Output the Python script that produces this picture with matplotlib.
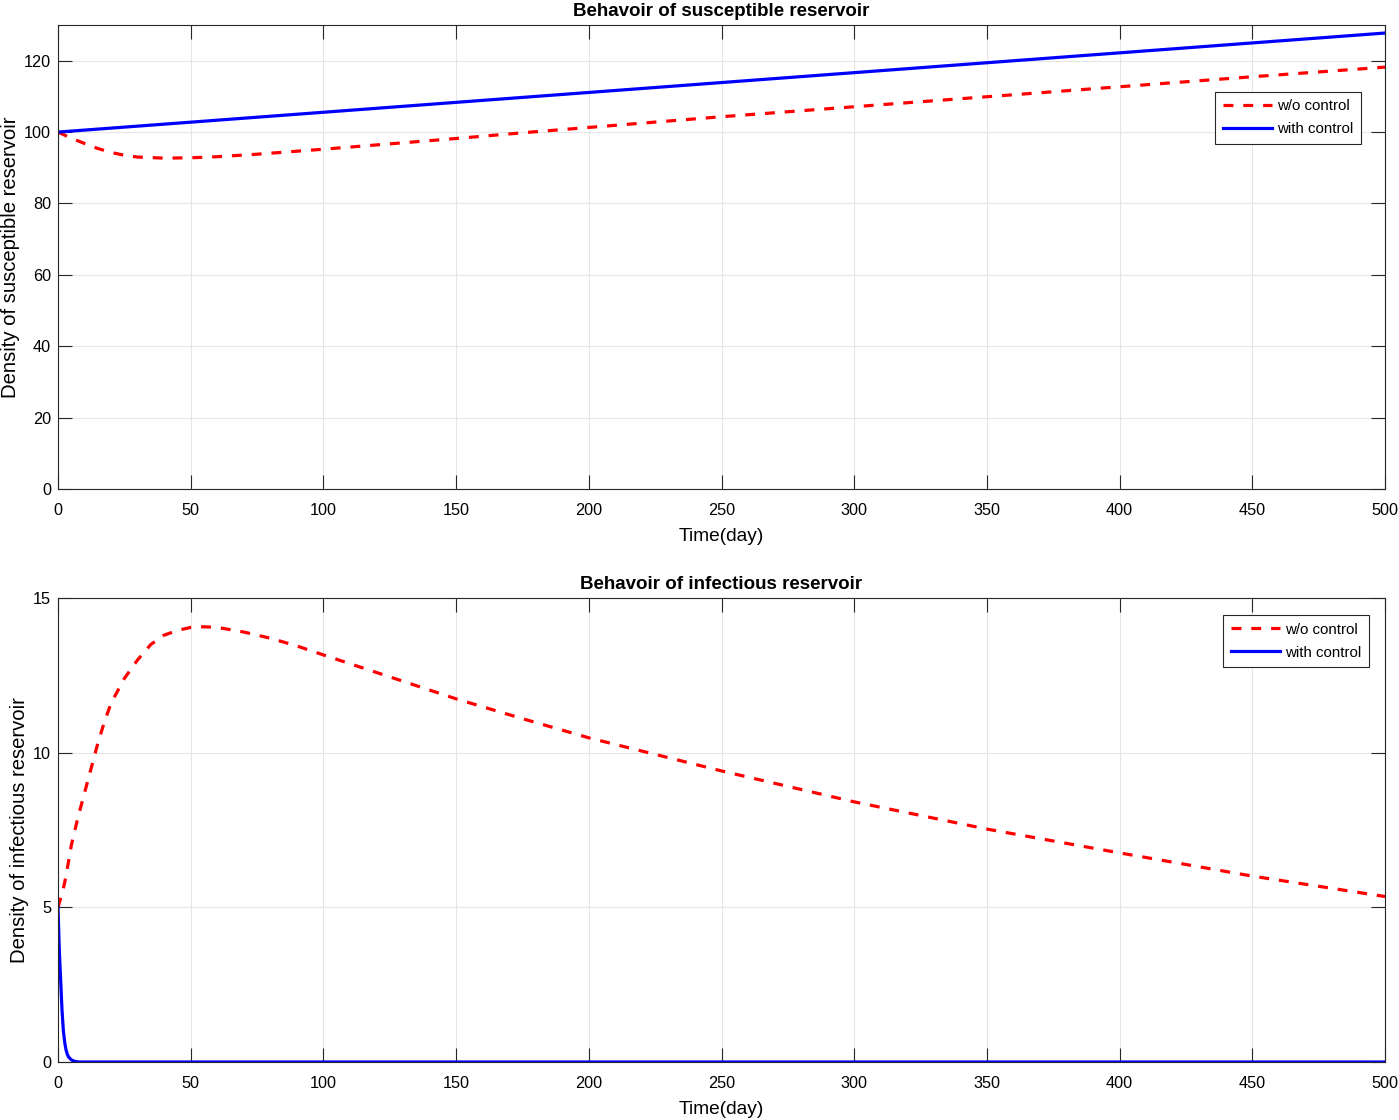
import matplotlib
matplotlib.use("Agg")
import matplotlib.pyplot as plt
import numpy as np

plt.rcParams['font.family'] = ['Liberation Sans', 'DejaVu Sans']

# ---- data ----
t_s_red = [0, 5, 10, 15, 20, 25, 30, 40, 50, 60, 75, 100, 125, 150, 175, 200,
           250, 300, 350, 400, 450, 500]
s_red = [100, 98.3, 96.8, 95.4, 94.3, 93.5, 93.0, 92.7, 92.8, 93.1, 93.8, 95.2,
         96.7, 98.2, 99.8, 101.3, 104.3, 107.1, 109.9, 112.7, 115.5, 118.2]
t_s_blue = [0, 100, 200, 300, 400, 500]
s_blue = [100, 105.55, 111.1, 116.65, 122.2, 127.75]

t_i_red = [0, 1, 2, 3, 5, 7.5, 10, 12.5, 15, 17.5, 20, 25, 30, 35, 40, 45, 50,
           55, 60, 70, 80, 90, 100, 125, 150, 175, 200, 250, 300, 350, 400, 450, 500]
i_red = [5, 5.3, 5.6, 6.0, 7.0, 7.9, 8.7, 9.5, 10.3, 11.0, 11.6, 12.4, 13.0, 13.5,
         13.8, 13.95, 14.05, 14.07, 14.05, 13.9, 13.7, 13.45, 13.16, 12.45, 11.74,
         11.1, 10.48, 9.41, 8.41, 7.53, 6.76, 6.01, 5.35]
t_i_blue = [0, 0.25, 0.5, 0.75, 1, 1.5, 2, 2.5, 3, 3.5, 4, 5, 6, 7, 8, 500]
i_blue = [5, 4.3, 3.6, 3.1, 2.65, 1.7, 1.03, 0.65, 0.4, 0.25, 0.16, 0.07, 0.03,
          0.01, 0, 0]

xticks = [0, 50, 100, 150, 200, 250, 300, 350, 400, 450, 500]
yticks_top = [0, 20, 40, 60, 80, 100, 120]
yticks_bot = [0, 5, 10, 15]

W, H = 1399, 1120
fig = plt.figure(figsize=(W / 100, H / 100), dpi=100)

def ax_rect(l, r, t, b):
    return [l / W, (H - b) / H, (r - l) / W, (b - t) / H]

ax1 = fig.add_axes(ax_rect(58, 1385, 25, 489))
ax2 = fig.add_axes(ax_rect(58, 1385, 598, 1062))

red = '#ff0000'
blue = '#0000ff'
lw = 2.3
dash = (3.1, 3.1)

def style(ax, yticks, ylim, ylabel, title):
    ax.set_xlim(0, 500)
    ax.set_ylim(*ylim)
    ax.set_xticks(xticks)
    ax.set_yticks(yticks)
    ax.grid(True, color='#e6e6e6', linewidth=0.8)
    ax.set_axisbelow(True)
    ax.tick_params(direction='in', length=10, width=0.8, top=True, right=True,
                   labelsize=11.7, colors='#262626', labelcolor='black')
    ax.tick_params(axis='x', pad=10)
    ax.tick_params(axis='y', pad=5)
    for sp in ax.spines.values():
        sp.set_color('#262626')
        sp.set_linewidth(0.8)
    ax.set_xlabel('Time(day)', fontsize=13.8, labelpad=7)
    ax.set_ylabel(ylabel, fontsize=14.6, labelpad=3)
    ax.set_title(title, fontsize=13.5, fontweight='bold', pad=6.5)

def add_legend(ax, anchor):
    leg = ax.legend(loc='upper right', bbox_to_anchor=anchor, fontsize=10.8,
                    frameon=True, fancybox=False, edgecolor='#262626', framealpha=1,
                    borderpad=0.5, handlelength=3.3, handletextpad=0.35,
                    labelspacing=0.6, borderaxespad=0)
    leg.get_frame().set_linewidth(0.8)

ax1.plot(t_s_red, s_red, color=red, lw=lw, linestyle=(0, dash), label='w/o control')
ax1.plot(t_s_blue, s_blue, color=blue, lw=lw, label='with control')
style(ax1, yticks_top, (0, 130), 'Density of susceptible reservoir',
      'Behavoir of susceptible reservoir')
add_legend(ax1, (0.982, 0.856))

ax2.plot(t_i_red, i_red, color=red, lw=lw, linestyle=(0, dash), label='w/o control')
ax2.plot(t_i_blue, i_blue, color=blue, lw=lw, label='with control')
style(ax2, yticks_bot, (0, 15), 'Density of infectious reservoir',
      'Behavoir of infectious reservoir')
add_legend(ax2, (0.988, 0.963))

fig.savefig('out.png', dpi=100)
